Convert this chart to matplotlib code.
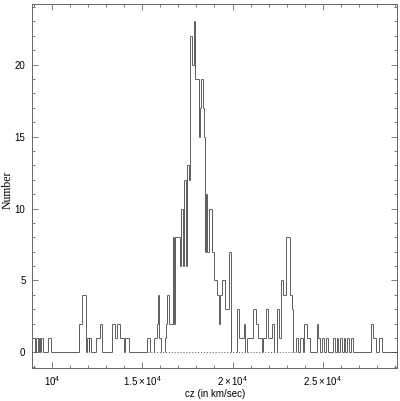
import numpy as np
import matplotlib.pyplot as plt
from matplotlib.ticker import MultipleLocator, FixedLocator

plt.rcParams['font.family'] = ['Liberation Sans', 'DejaVu Sans']
plt.rcParams['mathtext.fontset'] = 'custom'
plt.rcParams['mathtext.rm'] = 'Liberation Sans'
plt.rcParams['mathtext.it'] = 'Liberation Sans:italic'

# histogram: cz where the count changes, and the count from there on
edges = [8950, 9058, 9130, 9208, 9263, 9352, 9407, 9518, 9795, 9928,
         11512, 11645, 11884, 11956, 12033, 12066, 12144, 12421, 12643, 12770,
         13341, 13490, 13601, 13751, 13989, 14061, 14282, 15263, 15413, 15667,
         15800, 15856, 15928, 16022, 16244, 16332, 16388, 16482, 16686, 16758,
         16814, 17063, 17163, 17257, 17296, 17440, 17496, 17590, 17662, 17739,
         17867, 17939, 18127, 18216, 18255, 18382, 18437, 18493, 18548, 18604,
         18681, 18864, 18958, 19124, 19235, 19307, 19418, 19601, 19822, 19933,
         20249, 20343, 20620, 20709, 20803, 21163, 21285, 21396, 21617, 21706,
         21856, 21983, 22171, 22299, 22448, 22576, 22670, 22781, 22964, 23185,
         23312, 23368, 23501, 23645, 23739, 23922, 23978, 24111, 24293, 24664,
         24753, 24847, 24958, 25069, 25180, 25290, 25567, 25678, 25772, 25861,
         25955, 26066, 26177, 26249, 26343, 26454, 26548, 26692, 27673, 27800,
         27933, 28116, 28266]
counts = [1, 0, 1, 0, 1, 0, 1, 0, 1, 0,
          2, 4, 0, 1, 0, 1, 0, 1, 2, 0,
          2, 1, 2, 1, 0, 1, 0, 1, 0, 1,
          2, 4, 1, 0, 1, 2, 4, 2, 8, 2,
          8, 6, 10, 6, 12, 6, 13, 12, 22, 20,
          23, 19, 15, 17, 19, 17, 15, 7, 11, 7,
          10, 7, 5, 4, 2, 4, 5, 3, 7, 0,
          3, 1, 2, 0, 1, 3, 2, 1, 0, 1,
          3, 1, 2, 0, 3, 1, 5, 4, 8, 4,
          3, 0, 1, 0, 1, 0, 2, 1, 0, 2,
          1, 0, 1, 0, 1, 0, 1, 0, 1, 0,
          1, 0, 1, 0, 1, 0, 1, 0, 2, 1,
          0, 1, 0]
cz_end = 29100
# range where the zero level is drawn dotted
member_range = (15300, 23560)

x_ticks = [10000, 15000, 20000, 25000]
x_ticklabels = [r'$10^{4}$', r'$1.5\times10^{4}$', r'$2\times10^{4}$', r'$2.5\times10^{4}$']

fig = plt.figure(figsize=(4.0, 4.01), dpi=100)
ax = fig.add_axes([0.081, 0.083, 0.9115, 0.906])

left = np.array(edges, dtype=float)
right = np.append(left[1:], cz_end)
c = np.array(counts, dtype=float)
lo, hi = member_range

line_kw = dict(colors='#444444', linewidths=0.6)
solid = c > 0
ax.hlines(c[solid], left[solid], right[solid], **line_kw)
# zero segments, clipped to outside the dotted range
zl, zr = left[~solid], right[~solid]
for a, b in zip(zl, zr):
    for s, e in [(a, min(b, lo)), (max(a, hi), b)]:
        if e > s:
            ax.hlines(0, s, e, **line_kw)
ax.vlines(left[1:], c[:-1], c[1:], **line_kw)
ax.plot([lo, hi], [0, 0], color='#555555', lw=0.7, linestyle=(0, (1, 2)))

ax.set_xlim(8908, 29117)
ax.set_ylim(-1.06, 24.18)

ax.xaxis.set_major_locator(FixedLocator(x_ticks))
ax.set_xticklabels(x_ticklabels)
ax.xaxis.set_minor_locator(MultipleLocator(1000))
ax.yaxis.set_major_locator(MultipleLocator(5))
ax.yaxis.set_minor_locator(MultipleLocator(1))

ax.tick_params(which='both', direction='in', top=True, right=True,
               color='#666666', width=0.6, labelsize=7)
ax.tick_params(which='major', length=4)
ax.tick_params(which='minor', length=2)
ax.tick_params(axis='x', pad=4.5)
ax.tick_params(axis='y', pad=5)

for sp in ax.spines.values():
    sp.set_color('#666666')
    sp.set_linewidth(0.7)

ax.set_xlabel('cz (in km/sec)', fontsize=7)
ax.xaxis.set_label_coords(0.5, -0.058)
ax.set_ylabel('Number', fontsize=8.5, family=['Liberation Serif', 'DejaVu Serif'])
ax.yaxis.set_label_coords(-0.052, 0.49)

fig.savefig('out.png', dpi=100)
